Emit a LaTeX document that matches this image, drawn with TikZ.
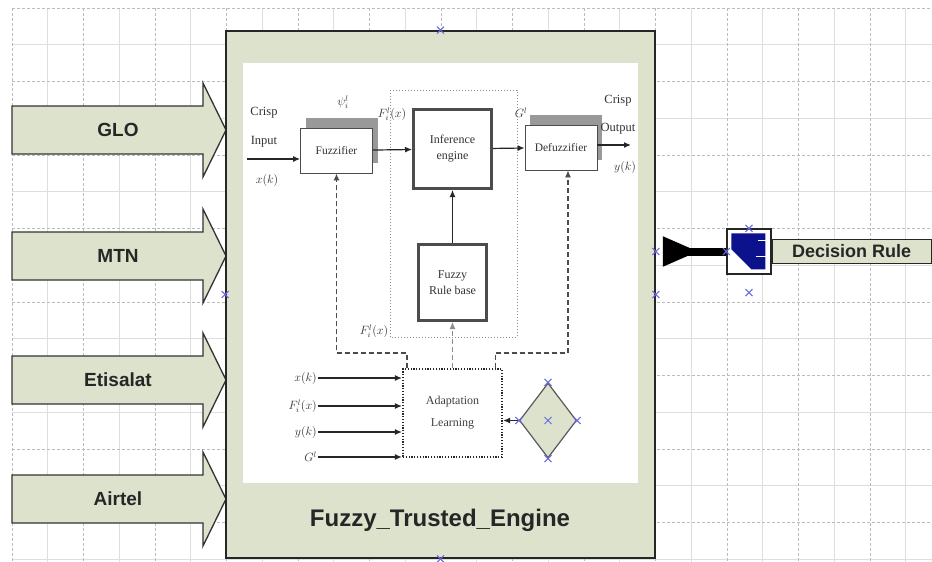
\documentclass[tikz,border=0pt]{standalone}
\usepackage{fontspec}
\setmainfont{Liberation Serif}
\setsansfont{Liberation Sans}
\usetikzlibrary{arrows.meta,positioning,shapes.geometric,shadows}
\definecolor{panelcolor}{RGB}{220,226,204}
\definecolor{gridcolor}{RGB}{188,188,188}
\definecolor{markcolor}{RGB}{105,105,225}
\definecolor{iconcolor}{RGB}{12,18,140}

\tikzset{
  gridmajor/.style={gridcolor,line width=0.8pt,dash pattern=on 3pt off 2pt},
  gridminor/.style={black!13,line width=0.8pt},
  srcarrow/.style={draw=black!80,line width=1.3pt,fill=panelcolor},
  srclabel/.style={font=\sffamily\bfseries\fontsize{19}{19}\selectfont,text=black!85},
  engine/.style={draw=black!85,line width=1.6pt,fill=panelcolor,minimum width=429pt,minimum height=527pt,inner sep=0pt},
  block/.style={draw=black!70,line width=0.8pt,fill=white,minimum width=72pt,minimum height=45pt,font=\fontsize{11.5}{12}\selectfont,text=black!80},
  shadowed/.style={drop shadow={shadow xshift=5pt,shadow yshift=10pt,fill=black!40,opacity=1}},
  heavy/.style={draw=black!70,line width=3pt,fill=white,align=center,font=\fontsize{12}{16}\selectfont,text=black!80},
  dotbox/.style={draw=black!85,line width=2.2pt,dash pattern=on 1.2pt off 1.6pt,minimum width=99pt,minimum height=88pt,align=center,font=\fontsize{12}{22}\selectfont,text=black!75},
  lbl/.style={font=\fontsize{12}{14}\selectfont,text=black!80,inner sep=1pt},
  flow/.style={-{Latex[length=7pt,width=6pt]},line width=1.2pt,black!85},
  feedback/.style={flow,dash pattern=on 5pt off 3pt,black!70},
  xmark/.style={draw=markcolor,line width=1pt},
  link/.style={line width=8pt,{Triangle[reversed,length=36pt,width=28pt]}-,shorten <=7pt},
}

\begin{document}
\begin{tikzpicture}[x=1pt,y=-1pt]
\fill[white] (0,0) rectangle (932,562);
\useasboundingbox (0,0) rectangle (932,562);
% grid
\foreach \k in {0,...,12} {
    \draw[gridminor] ({47.7+71.5*\k},8) -- ({47.7+71.5*\k},562);
}
\foreach \k in {0,...,7} {
    \draw[gridminor] (12,{44.7+73.5*\k}) -- (932,{44.7+73.5*\k});
}
\foreach \k in {0,...,12} {
    \draw[gridmajor] ({12+71.5*\k},8) -- ({12+71.5*\k},562);
}
\foreach \k in {0,...,7} {
    \draw[gridmajor] (12,{8+73.5*\k}) -- (932,{8+73.5*\k});
}

% providers
\foreach \i/\c/\t in {1/130/GLO, 2/256/MTN, 3/380/Etisalat, 4/499/Airtel} {
    \draw[srcarrow] (12,{\c-24}) -- (203,{\c-24}) -- (203,{\c-47}) -- (226,\c)
        -- (203,{\c+47}) -- (203,{\c+24}) -- (12,{\c+24}) -- cycle;
    \node[srclabel] (src\i) at (118,\c) {\t};
}

% engine block
\node[engine] (engine) at (440.5,294.5) {};
\fill[white] (243,63) rectangle (638,483);
\node[font=\sffamily\bfseries\fontsize{24}{24}\selectfont,text=black!85] (title) at (440,520) {Fuzzy\_Trusted\_Engine};

% inner fuzzy system
\draw[black!45,line width=1pt,dotted] (390,90) rectangle (517,337);
\node[block,shadowed] (fuzz) at (336.5,150.5) {Fuzzifier};
\node[block,shadowed] (defuzz) at (561,147.5) {Defuzzifier};
\node[heavy,minimum width=78pt,minimum height=79pt] (infer) at (452.5,149) {Inference\\engine};
\node[heavy,minimum width=68pt,minimum height=76pt] (rules) at (452.5,282.5) {Fuzzy\\Rule base};
\node[dotbox] (adapt) at (452.5,413) {Adaptation\\Learning};

\node[lbl,align=center,font=\fontsize{12.5}{29}\selectfont] (cin) at (264,127) {Crisp\\Input};
\node[lbl] (xin) at (267,180) {$x(k)$};
\node[lbl,align=center,font=\fontsize{12.5}{28}\selectfont] (cout) at (618,115) {Crisp\\Output};
\node[lbl] (yout) at (625,167) {$y(k)$};
\node[lbl] (psi) at (343,102) {$\psi_i^{l}$};
\node[lbl] (fx) at (392,114) {$F_i^{l}(x)$};
\node[lbl] (gl) at (521,113) {$G^{l}$};
\node[lbl] (fxlow) at (374,331) {$F_i^{l}(x)$};

\coordinate (inp) at (247,159);
\coordinate (outp) at (631,145);
\draw[flow] (inp) -- (inp -| fuzz.west);
\draw[flow] (fuzz) -- (infer);
\draw[flow] (infer) -- (defuzz);
\draw[flow] (defuzz.east |- outp) -- (outp);
\draw[flow] (rules) -- (infer);
\draw[feedback] ([xshift=5pt]adapt.north west) -- ++(0,-15) -| (fuzz.south);
\draw[feedback] ([xshift=-8pt]adapt.north east) -- ++(0,-15) -| ([xshift=7pt]defuzz.south);
\draw[feedback,black!45] (adapt) -- (rules);

\foreach \i/\y/\t in {1/378/$x(k)$, 2/406/$F_i^{l}(x)$, 3/432/$y(k)$, 4/457/$G^{l}$} {
    \node[lbl,anchor=east] (a\i) at (318,\y) {\t};
    \draw[flow] (a\i.east) -- (a\i.east -| adapt.west);
}

\node[diamond,draw=black!65,line width=1.2pt,fill=panelcolor,minimum width=57pt,minimum height=75pt,inner sep=0pt] (judge) at (548,420.5) {};
\draw[flow] (judge.west) -- (judge.west -| adapt.east);

% decision rule
\node[draw=black!85,line width=1.2pt,fill=white,minimum width=44pt,minimum height=45pt,inner sep=0pt] (rule) at (749,251.5) {};
\fill[iconcolor] ([shift={(5,5)}]rule.north west) -- ++(34,0) -- ++(0,36) -- ++(-14,0) -- ++(-20,-20) -- cycle;
\draw[white,line width=1.5pt] ([shift={(-14,12)}]rule.north east) -- ++(10,0);
\draw[white,line width=1.5pt] ([shift={(-16,28)}]rule.north east) -- ++(12,0);
\node[draw=black!85,line width=1.2pt,fill=panelcolor,minimum width=159pt,minimum height=24pt,inner sep=0pt,
      font=\sffamily\bfseries\fontsize{18}{18}\selectfont,text=black!85,right=0pt of rule] (decision) {Decision Rule};
\draw[link] (engine.east |- rule.west) -- (rule.west);

% markers
\coordinate[below=18pt of rule.south] (rulemark);
\foreach \p in {engine.north, engine.south, engine.west, engine.east, engine.east |- rule.west,
                rule.north, rule.west, rulemark,
                judge.north, judge.south, judge.east, judge.west, judge.center} {
    \draw[xmark] (\p) +(-3.5,-3.5) -- +(3.5,3.5) +(-3.5,3.5) -- +(3.5,-3.5);
}
\end{tikzpicture}
\end{document}
